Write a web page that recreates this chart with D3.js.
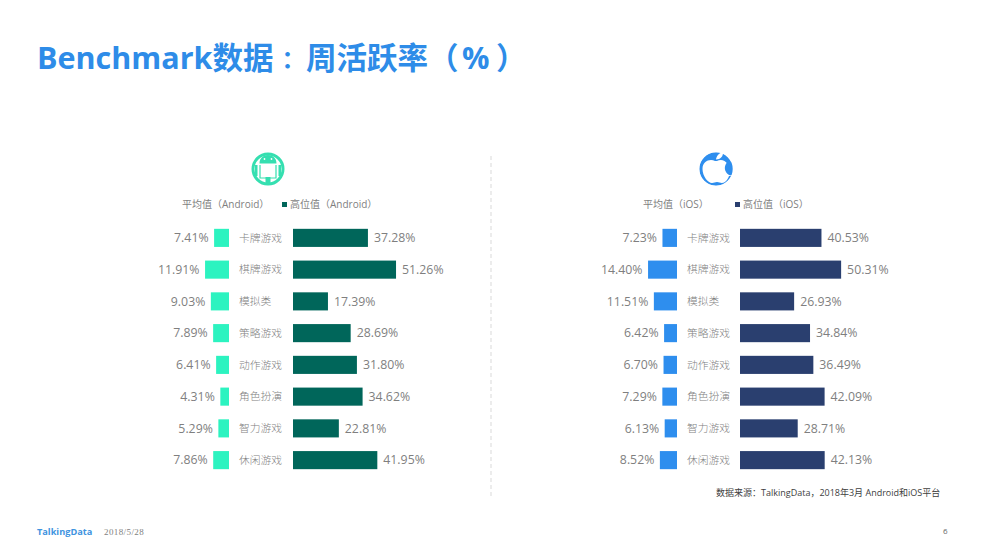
<!DOCTYPE html>
<html>
<head>
<meta charset="utf-8">
<script src="https://d3js.org/d3.v7.min.js"></script>
<style>
  html, body { margin: 0; padding: 0; background: #fff; }
  svg { display: block; }
  text { font-family: "Open Sans", "Noto Sans CJK SC", sans-serif; }
</style>
</head>
<body>
<svg id="chart" width="983" height="555"></svg>
<script>
// Data
var categories = ["卡牌游戏", "棋牌游戏", "模拟类", "策略游戏", "动作游戏", "角色扮演", "智力游戏", "休闲游戏"];
var androidAvg = [7.41, 11.91, 9.03, 7.89, 6.41, 4.31, 5.29, 7.86];
var androidHigh = [37.28, 51.26, 17.39, 28.69, 31.80, 34.62, 22.81, 41.95];
var iosAvg = [7.23, 14.40, 11.51, 6.42, 6.70, 7.29, 6.13, 8.52];
var iosHigh = [40.53, 50.31, 26.93, 34.84, 36.49, 42.09, 28.71, 42.13];

var svg = d3.select("#chart");

// Title, split so the wide punctuation sits where the original font put it
var titleParts = [
  { t: "Benchmark数据", x: 37, y: 69, size: 30.5 },
  { t: "\uFF1A", x: 281.5, y: 68, size: 24 },
  { t: "周活跃率", x: 306, y: 69, size: 30.5 },
  { t: "\uFF08", x: 428, y: 69, size: 30.5 },
  { t: "%", x: 462, y: 69, size: 30.5 },
  { t: "\uFF09", x: 496, y: 69, size: 30.5 }
];
svg.append("text")
  .attr("font-weight", 700)
  .attr("fill", "#2e8ce8")
  .selectAll("tspan").data(titleParts).enter().append("tspan")
  .attr("x", function(d) { return d.x; })
  .attr("y", function(d) { return d.y; })
  .attr("font-size", function(d) { return d.size; })
  .text(function(d) { return d.t; });

// One shared row scale, one px-per-percent scale
var y = d3.scaleBand()
  .domain(categories)
  .range([222, 476])
  .paddingInner(0.43)
  .paddingOuter(0.215);

var w = d3.scaleLinear().domain([0, 100]).range([0, 201]);

function fmt(v) { return v.toFixed(2) + "%"; }

// Draws one butterfly panel
function panel(opt) {
  var g = svg.append("g");

  // avg bars grow left from opt.avgEnd
  g.selectAll(".avg").data(opt.avg).enter().append("rect")
    .attr("x", function(d) { return opt.avgEnd - w(d); })
    .attr("y", function(d, i) { return y(categories[i]); })
    .attr("width", function(d) { return w(d); })
    .attr("height", y.bandwidth())
    .attr("fill", opt.avgColor);

  g.selectAll(".avgLabel").data(opt.avg).enter().append("text")
    .attr("x", function(d) { return opt.avgEnd - w(d) - 5.5; })
    .attr("y", function(d, i) { return y(categories[i]) + y.bandwidth() / 2; })
    .attr("dy", "0.35em")
    .attr("text-anchor", "end")
    .attr("font-size", 12.3)
    .attr("fill", "#7f7f7f")
    .text(fmt);

  // category names, left aligned between the bars
  g.selectAll(".cat").data(categories).enter().append("text")
    .attr("x", opt.catX)
    .attr("y", function(d) { return y(d) + y.bandwidth() / 2; })
    .attr("dy", "0.35em")
    .attr("font-size", 10.75)
    .attr("font-weight", 300)
    .attr("fill", "#7f7f7f")
    .text(function(d) { return d; });

  // high bars grow right from opt.highStart
  g.selectAll(".high").data(opt.high).enter().append("rect")
    .attr("x", opt.highStart)
    .attr("y", function(d, i) { return y(categories[i]); })
    .attr("width", function(d) { return w(d); })
    .attr("height", y.bandwidth())
    .attr("fill", opt.highColor);

  g.selectAll(".highLabel").data(opt.high).enter().append("text")
    .attr("x", function(d) { return opt.highStart + w(d) + 6; })
    .attr("y", function(d, i) { return y(categories[i]) + y.bandwidth() / 2; })
    .attr("dy", "0.35em")
    .attr("font-size", 12.3)
    .attr("fill", "#7f7f7f")
    .text(fmt);

  // legend
  g.append("text").attr("x", opt.legendX).attr("y", 208)
    .attr("font-size", 10).attr("fill", "#7f7f7f")
    .text("平均值\uFF08" + opt.name + "\uFF09");
  g.append("rect").attr("x", opt.swatchX).attr("y", 202).attr("width", 5).attr("height", 5)
    .attr("fill", opt.highColor);
  g.append("text").attr("x", opt.swatchX + 8).attr("y", 208)
    .attr("font-size", 10).attr("fill", "#7f7f7f")
    .text("高位值\uFF08" + opt.name + "\uFF09");
}

panel({ name: "Android", avg: androidAvg, high: androidHigh, avgEnd: 229, highStart: 293, catX: 239,
        avgColor: "#2cf3c0", highColor: "#00665a", legendX: 182, swatchX: 282 });
panel({ name: "iOS", avg: iosAvg, high: iosHigh, avgEnd: 677, highStart: 740, catX: 687,
        avgColor: "#2e8eee", highColor: "#2a3f6f", legendX: 643, swatchX: 735 });

// Android icon: ring, domed head with eyes, open body, arms and leg
var droid = svg.append("g").attr("transform", "translate(268,169)");
var green = "#35dfb0";
droid.append("circle").attr("r", 15).attr("fill", "none").attr("stroke", green).attr("stroke-width", 3);
droid.append("path").attr("fill", green)
  .attr("d", "M-8.5,-5.5 C-8.5,-11 -4.5,-14 0,-14 C4.5,-14 8.5,-11 8.5,-5.5 Z M-13,-4 H-10.5 V7 H-13 Z M10.5,-4 H13 V7 H10.5 Z M-2.5,8 H2.5 V16 H-2.5 Z");
droid.append("path").attr("fill", "none").attr("stroke", green).attr("stroke-width", 1.2)
  .attr("d", "M-8,-4 V9 H8 V-4");
droid.selectAll(".eye").data([-3.5, 3.5]).enter().append("circle")
  .attr("cx", function(d) { return d; }).attr("cy", -10).attr("r", 0.9).attr("fill", "#fff");

// iOS icon: blue disc with a big white apple reaching the right edge
var apple = svg.append("g").attr("transform", "translate(716,169)");
apple.append("circle").attr("r", 16.7).attr("fill", "#2e8eee");
apple.append("path").attr("fill", "#fff")
  .attr("d", "M-1,-8 C-6,-10.5 -13.5,-8 -13.5,0 C-13.5,7 -8,14 -4,14 C-2,14 -1,13 1,13 C3,13 4,14 6,14 C9,14 11.5,11 13,7 L17,6 L17,-5 L11.5,-5 C9,-9.5 4,-10 1,-8 Z M0,-9.5 C0.5,-12.5 2.5,-16 7,-17 C7.5,-13 4.5,-9.5 0,-9.5 Z");
apple.append("path").attr("fill", "#2e8eee")
  .attr("d", "M11.5,-7 C7.5,-3 8,3 13,6 L18,6 L18,-7 Z");
// keep the white from spilling outside the disc
apple.append("circle").attr("r", 19).attr("fill", "none").attr("stroke", "#fff").attr("stroke-width", 4.6);

// Divider
svg.append("line")
  .attr("x1", 491).attr("x2", 491).attr("y1", 156).attr("y2", 496)
  .attr("stroke", "#d9d9d9").attr("stroke-dasharray", "4 3");

// Source
svg.append("text").attr("x", 716).attr("y", 496)
  .attr("font-size", 9).attr("fill", "#404040")
  .text("数据来源\uFF1ATalkingData\uFF0C2018年3月 Android和iOS平台");

// Footer
svg.append("text").attr("x", 37).attr("y", 535)
  .attr("font-size", 9.2).attr("font-weight", 700).attr("fill", "#3f94e0")
  .text("TalkingData");
svg.append("text").attr("x", 104).attr("y", 535)
  .attr("font-size", 9).attr("letter-spacing", 0.4).attr("fill", "#7f7f7f")
  .style("font-family", "'Liberation Serif', serif")
  .text("2018/5/28");
svg.append("text").attr("x", 943).attr("y", 534)
  .attr("font-size", 8).attr("fill", "#666")
  .text("6");
</script>
</body>
</html>
